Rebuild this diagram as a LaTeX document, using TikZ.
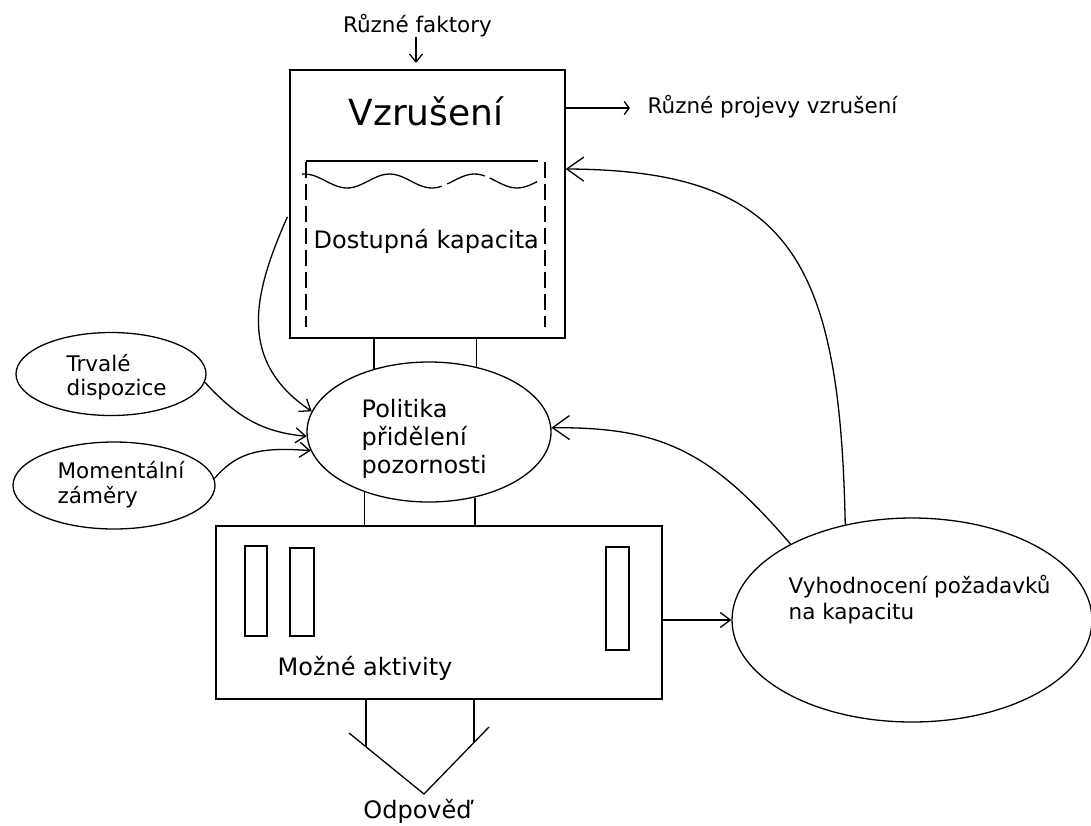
\documentclass[tikz,border=0pt]{standalone}
\usepackage{fontspec}
\setmainfont{DejaVu Sans}
\usetikzlibrary{shapes.geometric,arrows.meta}

\begin{document}
\begin{tikzpicture}[x=1pt,y=-1pt,line width=1.3pt,
  box/.style={draw,rectangle,inner sep=0pt},
  oval/.style={draw,ellipse,inner sep=0pt},
  txt/.style={inner sep=0pt,anchor=base west,font=\fontsize{24}{28}\selectfont},
  lbl/.style={inner sep=0pt,anchor=base west,font=\fontsize{21.5}{26}\selectfont},
  arr/.style={-{Straight Barb[length=10pt,width=15pt]}},
  bigarr/.style={-{Straight Barb[length=17pt,width=24pt]}}]
\path[fill=white] (0,0) rectangle (1091,825);
\useasboundingbox (0,0) rectangle (1091,825);

%arousal
\node[lbl, anchor=base] (faktory) at (417.5,32) {Různé faktory};
\coordinate (faktA) at (416,63);
\draw[-{Straight Barb[length=8pt,width=13pt]}] (faktory.south -| faktA) -- (faktA);

\node[box, minimum width=275pt, minimum height=268pt] (vzr) at (427.5,204) {};
\node[inner sep=0pt, anchor=base west, font=\fontsize{36}{40}\selectfont] (vzrT) at (348,125) {Vzrušení};

\node[lbl] (projevy) at (647,113) {Různé projevy vzrušení};
\coordinate (projA) at (630,108);
\draw[-{Straight Barb[length=5pt,width=13pt]}] (vzr.east |- projA) -- (projA);

%capacity
\draw (306,161) -- (538,161);
\draw[dash pattern=on 16pt off 6pt] (306,162) -- (306,327);
\draw[dash pattern=on 16pt off 6pt] (545,162) -- (545,327);
\draw[dash pattern=on 148pt off 6pt on 40pt off 5pt] plot[domain=302:537,samples=60,smooth] (\x,{181+7*cos(4.235*(\x-347))});
\node[txt] (dostT) at (313,248) {Dostupná kapacita};

%policy
\node[oval, minimum width=244pt, minimum height=140pt] (polit) at (429,432) {};
\node[txt] (polit1) at (361,417) {Politika};
\node[txt] (polit2) at (361,445) {přidělení};
\node[txt] (polit3) at (361,473) {pozornosti};

%activities
\node[box, minimum width=446pt, minimum height=173pt] (aktiv) at (439,612.5) {};
\draw (245,546) rectangle (267,636);
\draw (290,548) rectangle (314,636);
\draw (606,547) rectangle (629,650);
\node[txt] (aktivT) at (277,675) {Možné aktivity};

\draw (polit.131) -- (polit.131 |- vzr.south);
\draw (polit.54) -- (polit.54 |- vzr.south);
\draw (polit.-137) -- (polit.-137 |- aktiv.north);
\draw (polit.-55) -- (polit.-55 |- aktiv.north);

%response
\coordinate (vL) at (349,733);
\coordinate (vB) at (424,794);
\coordinate (vR) at (489,727);
\coordinate (outL) at (366,747);
\coordinate (outR) at (474,742);
\draw (outL |- aktiv.south) -- (outL);
\draw (outR |- aktiv.south) -- (outR);
\draw (vL) -- (vB) -- (vR);
\node[txt, anchor=base] (odpov) at (417.5,818) {Odpověď};

%evaluation
\node[oval, minimum width=360pt, minimum height=204pt] (vyhod) at (912,620) {};
\node[lbl] (vyhod1) at (788,593) {Vyhodnocení požadavků};
\node[lbl] (vyhod2) at (788,619) {na kapacitu};
\draw[arr] (aktiv.east |- vyhod.west) -- (vyhod.west);

%dispositions
\node[oval, minimum width=190pt, minimum height=83pt] (trvale) at (111,374) {};
\node[lbl] (trvale1) at (66,371) {Trvalé};
\node[lbl] (trvale2) at (66,395) {dispozice};
\node[oval, minimum width=202pt, minimum height=87pt] (moment) at (114,485.5) {};
\node[lbl] (moment1) at (57,478) {Momentální};
\node[lbl] (moment2) at (57,503) {záměry};

%feedback
\draw[bigarr] (vyhod.125) .. controls (840,260) and (790,170) .. ([yshift=35pt]vzr.east);
\draw[bigarr] (vyhod.148) .. controls (710,450) and (660,427) .. (polit.2);
\draw[arr] ([xshift=-2pt,yshift=-13pt]vzr.west) .. controls (255,290) and (235,360) .. (polit.170);
\draw[arr] (trvale.-5) .. controls (235,415) and (260,432) .. (polit.182);
\draw[arr] (moment.4) .. controls (235,455) and (255,446) .. (polit.189);
\end{tikzpicture}
\end{document}
